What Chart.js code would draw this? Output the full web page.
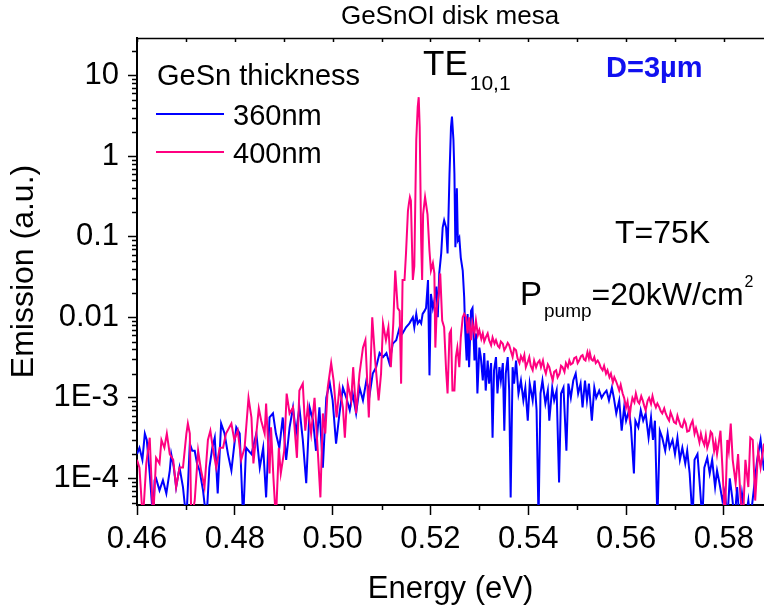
<!DOCTYPE html>
<html>
<head>
<meta charset="utf-8">
<script src="https://cdn.jsdelivr.net/npm/chart.js@4.4.1/dist/chart.umd.min.js"></script>
<style>
  html, body { margin: 0; padding: 0; background: #fff; }
  #wrap { width: 764px; height: 611px; }
</style>
</head>
<body>
<div id="wrap"><canvas id="chart" width="764" height="611"></canvas></div>
<script>
// ------------------------------------------------------------
// Spectra: energy (eV) / emission (a.u.)
// values below the axis floor are kept at 3e-5 (clipped)
// ------------------------------------------------------------
const energy360 = [
  0.4600, 0.4605, 0.4611, 0.4616, 0.4620, 0.4626, 0.4633, 0.4636, 0.4639, 0.4646,
  0.4653, 0.4660, 0.4667, 0.4670, 0.4675, 0.4680, 0.4687, 0.4694, 0.4701, 0.4708,
  0.4713, 0.4718, 0.4723, 0.4728, 0.4735, 0.4742, 0.4748, 0.4754, 0.4759, 0.4765,
  0.4772, 0.4779, 0.4786, 0.4793, 0.4803, 0.4810, 0.4817, 0.4823, 0.4834, 0.4844,
  0.4851, 0.4858, 0.4864,
  0.4871, 0.4878, 0.4884, 0.4891, 0.4898, 0.4905, 0.4912, 0.4919, 0.4925, 0.4932,
  0.4939, 0.4946, 0.4953, 0.4960, 0.4966, 0.4973, 0.4980, 0.4987, 0.4994, 0.5000,
  0.5007, 0.5014, 0.5021, 0.5028, 0.5035, 0.5041, 0.5048, 0.5055, 0.5062, 0.5069,
  0.5076, 0.5082, 0.5089, 0.5096, 0.5103, 0.5110, 0.5116, 0.5123, 0.5130,
  0.5137, 0.5143, 0.5150, 0.5157, 0.5164, 0.5167, 0.5171, 0.5174, 0.5178, 0.5181,
  0.5184, 0.5188, 0.5191, 0.5195, 0.5198, 0.5201, 0.5205, 0.5208, 0.5212, 0.5215,
  0.5218, 0.5222, 0.5225, 0.5228, 0.5232, 0.5235, 0.5239, 0.5242, 0.5244, 0.5247,
  0.5249, 0.5251, 0.5254, 0.5256, 0.5259, 0.5262, 0.5266, 0.5269, 0.5271, 0.5274,
  0.5276, 0.5279, 0.5283, 0.5286, 0.5290, 0.5293, 0.5296, 0.5300, 0.5303, 0.5307,
  0.5310, 0.5313, 0.5317, 0.5320, 0.5324, 0.5327, 0.5330, 0.5334, 0.5337, 0.5341,
  0.5344, 0.5348, 0.5351, 0.5354, 0.5358, 0.5361, 0.5364, 0.5368, 0.5371, 0.5375,
  0.5380, 0.5385, 0.5390, 0.5394, 0.5399, 0.5403, 0.5409, 0.5413, 0.5417, 0.5421,
  0.5425, 0.5429, 0.5435, 0.5440, 0.5443, 0.5449, 0.5453, 0.5458, 0.5463, 0.5467,
  0.5472, 0.5478, 0.5482, 0.5487, 0.5492, 0.5497, 0.5502, 0.5507, 0.5511, 0.5516,
  0.5520, 0.5524, 0.5530, 0.5535, 0.5539, 0.5545, 0.5550, 0.5555, 0.5560, 0.5565,
  0.5571, 0.5575, 0.5580, 0.5586, 0.5591, 0.5596, 0.5600, 0.5606, 0.5610, 0.5616,
  0.5619,
  0.5625, 0.5630, 0.5635, 0.5640, 0.5646, 0.5651, 0.5655, 0.5659, 0.5664, 0.5669,
  0.5674, 0.5680, 0.5685, 0.5689, 0.5695, 0.5700, 0.5705, 0.5710, 0.5715, 0.5721,
  0.5725, 0.5730, 0.5736, 0.5740, 0.5746, 0.5750, 0.5756, 0.5760, 0.5766, 0.5771,
  0.5776, 0.5782, 0.5786, 0.5791, 0.5797, 0.5802, 0.5807, 0.5812, 0.5817, 0.5822,
  0.5827, 0.5832, 0.5837, 0.5844, 0.5850, 0.5854, 0.5861, 0.5868, 0.5875, 0.5882
];
const emission360 = [
  2.0e-4, 2.4e-4, 1.7e-4, 3.6e-4, 3.0e-4, 1.15e-4, 3e-5, 9.5e-5, 1.0e-4, 7.1e-5,
  9.5e-5, 6.5e-5, 1.25e-4, 2.0e-4, 1.4e-4, 7.8e-5, 1.36e-4, 7.8e-5, 3e-5, 2.7e-4,
  2.2e-4, 2.2e-4, 1.5e-4, 1.25e-4, 7.1e-5, 3e-5, 1.36e-4, 2.4e-4, 3.2e-4, 6.5e-5,
  4.8e-4, 3.6e-4, 2.0e-4, 1.25e-4, 4.3e-4, 3.6e-4, 3e-5, 2.4e-4, 2.0e-4, 3.6e-4,
  1.36e-4, 2.4e-4, 5.8e-5,
  5.7e-4, 6.4e-4, 3.6e-4, 2.4e-4, 5.7e-4, 1.7e-4, 4.3e-4, 7.6e-4, 3.6e-4, 7.6e-4,
  3.0e-4, 8.7e-5, 7.6e-4, 5.2e-4, 2.2e-4, 7.6e-4, 1.36e-4, 1.0e-3, 1.55e-3, 9.3e-4,
  2.7e-4, 6.4e-4, 1.34e-3, 1.0e-3, 7.0e-4, 1.13e-3, 6.4e-4, 1.34e-3, 9.3e-4, 1.64e-3,
  1.13e-3, 2.0e-3, 2.4e-3, 3.6e-3, 3.2e-3, 3.6e-3, 2.7e-3, 4.7e-3, 5.2e-3,
  7.5e-3, 6.3e-3, 7.5e-3, 8.4e-3, 1.0e-2, 7.5e-3, 1.1e-2, 8.4e-3, 9.1e-3, 8.4e-3,
  1.1e-2, 1.2e-2, 1.3e-2, 2.9e-2, 1.9e-3, 1.95e-2, 1.3e-2, 1.6e-2, 2.4e-2, 1.0e-2,
  3.5e-2, 6.2e-2, 0.13, 0.16, 0.13, 6.2e-2, 0.61, 2.3, 3.1, 1.6,
  0.61, 7.4e-2, 0.40, 9.0e-2, 9.8e-2, 5.5e-2, 3.8e-2, 1.76e-2, 6.9e-3, 2.9e-3,
  1.1e-2, 2.4e-3, 1.2e-2, 1.3e-2, 2.9e-3, 6.3e-3, 1.13e-3, 4.2e-3, 3.2e-3, 1.64e-3,
  3.6e-3, 1.23e-3, 2.9e-3, 1.5e-3, 2.7e-3, 3.2e-4, 2.2e-3, 3.2e-3, 1.13e-3, 2.4e-3,
  1.64e-3, 2.7e-3, 3.9e-4, 2.0e-3, 3.2e-3, 1.23e-3, 5.8e-5, 2.4e-3, 1.5e-3, 2.9e-3,
  1.13e-3, 1.64e-3, 9.3e-4, 1.34e-3, 5.2e-4, 1.5e-3, 9.3e-4, 1.64e-3, 7.0e-4, 3e-5,
  1.13e-3, 1.64e-3, 8.5e-4, 1.23e-3, 5.2e-4, 1.34e-3, 9.3e-4, 1.23e-3, 8.9e-5, 1.13e-3,
  1.34e-3, 2.2e-4, 1.5e-3, 1.0e-3, 1.64e-3, 2.0e-3, 1.13e-3, 1.5e-3, 7.6e-4, 1.64e-3,
  9.3e-4, 1.5e-3, 5.2e-4, 1.34e-3, 1.0e-3, 1.23e-3, 1.0e-3, 1.13e-3, 1.23e-3, 9.3e-4,
  1.34e-3, 1.0e-3, 6.4e-4, 9.3e-4, 3.9e-4, 7.6e-4, 5.2e-4, 7.0e-4, 4.3e-4, 1.15e-4,
  5.2e-4,
  4.3e-4, 7.0e-4, 5.2e-4, 6.4e-4, 3.2e-4, 5.7e-4, 3.0e-4, 5.2e-4, 3e-5, 3.9e-4,
  3.2e-4, 2.2e-4, 3.6e-4, 2.4e-4, 3.0e-4, 2.0e-4, 3.2e-4, 1.7e-4, 2.4e-4, 1.53e-4,
  2.2e-4, 1.15e-4, 3e-5, 1.7e-4, 2.0e-4, 9.5e-5, 3e-5, 1.36e-4, 1.8e-4, 1.15e-4,
  1.7e-4, 7.8e-5, 1.25e-4, 8.7e-5, 5.3e-5, 7.1e-5, 3e-5, 1.0e-4, 5.8e-5, 3e-5,
  7.8e-5, 3e-5, 6.5e-5, 3e-5, 5.3e-5, 3e-5, 7.1e-5, 1.7e-4, 3.0e-4, 1.25e-4
];

const energy400 = [
  0.4600, 0.4605, 0.4612, 0.4619, 0.4626, 0.4633, 0.4639, 0.4646, 0.4650, 0.4656,
  0.4661, 0.4667, 0.4674, 0.4680, 0.4687, 0.4694, 0.4701, 0.4704, 0.4708, 0.4711,
  0.4718, 0.4725, 0.4731, 0.4738, 0.4745, 0.4750, 0.4755, 0.4762, 0.4769, 0.4776,
  0.4782, 0.4793, 0.4799, 0.4806, 0.4813, 0.4820, 0.4828, 0.4834, 0.4838, 0.4844,
  0.4849, 0.4854, 0.4861,
  0.4864, 0.4871, 0.4874, 0.4879, 0.4884, 0.4890, 0.4894, 0.4901, 0.4906, 0.4912,
  0.4919, 0.4927, 0.4932, 0.4939, 0.4944, 0.4949, 0.4956, 0.4963, 0.4970, 0.4975,
  0.4980, 0.4985, 0.4990, 0.4997, 0.5002, 0.5008, 0.5014, 0.5021, 0.5025, 0.5031,
  0.5038, 0.5042, 0.5048, 0.5055, 0.5062, 0.5067, 0.5074, 0.5081, 0.5087, 0.5094,
  0.5099, 0.5103, 0.5109, 0.5114, 0.5119, 0.5124, 0.5128,
  0.5133, 0.5137, 0.5140, 0.5143, 0.5147, 0.5150, 0.5154, 0.5156, 0.5158, 0.5160,
  0.5164, 0.5167, 0.5171, 0.5174, 0.5176, 0.5178, 0.5181, 0.5183, 0.5185, 0.5189,
  0.5194, 0.5198, 0.5201, 0.5205, 0.5208, 0.5210, 0.5213, 0.5217, 0.5220, 0.5224,
  0.5228, 0.5232, 0.5235, 0.5239, 0.5242, 0.5245, 0.5249, 0.5252, 0.5255, 0.5259,
  0.5262, 0.5266, 0.5269, 0.5273, 0.5276, 0.5279, 0.5283, 0.5286, 0.5290, 0.5293,
  0.5297, 0.5300, 0.5304, 0.5307, 0.5310, 0.5313, 0.5317, 0.5320, 0.5324, 0.5327,
  0.5331, 0.5334, 0.5338, 0.5341, 0.5344, 0.5348, 0.5351, 0.5354, 0.5358, 0.5361,
  0.5365, 0.5368, 0.5371, 0.5375,
  0.5378, 0.5382, 0.5385, 0.5389, 0.5392, 0.5395, 0.5399, 0.5402, 0.5405, 0.5409,
  0.5412, 0.5416, 0.5419, 0.5423, 0.5426, 0.5430, 0.5433, 0.5436, 0.5440, 0.5443,
  0.5447, 0.5450, 0.5453, 0.5457, 0.5460, 0.5464, 0.5467, 0.5470, 0.5474, 0.5477,
  0.5481, 0.5484, 0.5487, 0.5491, 0.5494, 0.5498, 0.5501, 0.5504, 0.5508, 0.5511,
  0.5514, 0.5517, 0.5521, 0.5524, 0.5526, 0.5529, 0.5532, 0.5535, 0.5538, 0.5542,
  0.5545, 0.5548, 0.5552, 0.5555, 0.5559, 0.5562, 0.5566, 0.5569, 0.5573, 0.5576,
  0.5579, 0.5583, 0.5586, 0.5589, 0.5593, 0.5596, 0.5600, 0.5603, 0.5607, 0.5610,
  0.5613, 0.5617, 0.5620,
  0.5624, 0.5627, 0.5631, 0.5634, 0.5637, 0.5640, 0.5644, 0.5647, 0.5651, 0.5654,
  0.5657, 0.5661, 0.5664, 0.5668, 0.5671, 0.5674, 0.5678, 0.5681, 0.5685, 0.5688,
  0.5691, 0.5695, 0.5698, 0.5702, 0.5705, 0.5708, 0.5712, 0.5715, 0.5719, 0.5722,
  0.5725, 0.5729, 0.5732, 0.5736, 0.5740, 0.5743, 0.5746, 0.5750, 0.5753, 0.5756,
  0.5760, 0.5763, 0.5766, 0.5770, 0.5773, 0.5776, 0.5780, 0.5783, 0.5786, 0.5790,
  0.5793, 0.5797, 0.5802, 0.5807, 0.5810, 0.5814, 0.5818, 0.5824, 0.5829, 0.5834,
  0.5839, 0.5844, 0.5850, 0.5854, 0.5859, 0.5864, 0.5870, 0.5875, 0.5882
];
const emission400 = [
  1.7e-4, 1.36e-4, 3e-5, 1.53e-4, 3.2e-4, 3e-5, 1.8e-4, 1.53e-4, 3.0e-4, 2.4e-4,
  3.6e-4, 2.0e-4, 1.7e-4, 7.8e-5, 1.36e-4, 1.36e-4, 3.6e-4, 4.8e-4, 3.6e-4, 3e-5,
  5.3e-5, 2.2e-4, 1.25e-4, 7.8e-5, 3.0e-4, 3.9e-4, 2.4e-4, 1.36e-4, 2.4e-4, 2.4e-4,
  3.6e-4, 4.8e-4, 3.0e-4, 3.9e-4, 1.7e-4, 2.4e-4, 1.0e-3, 5.7e-4, 1.53e-4, 3.6e-4,
  7.4e-4, 5.2e-4, 3.6e-4,
  8.5e-4, 1.15e-4, 4.3e-4, 1.0e-4, 3e-5, 2.4e-4, 1.15e-4, 2.2e-4, 1.13e-3, 6.4e-4,
  7.6e-4, 1.8e-4, 1.23e-3, 1.5e-3, 3.9e-4, 7.6e-4, 3.6e-4, 1.0e-3, 2.0e-4, 5.8e-5,
  6.4e-4, 3.6e-4, 1.34e-3, 2.7e-3, 1.64e-3, 5.7e-4, 1.34e-3, 7.6e-4, 3.2e-4, 1.5e-3,
  9.3e-4, 2.4e-3, 6.4e-4, 2.0e-3, 4.2e-3, 5.2e-3, 5.7e-4, 1.0e-2, 2.9e-3, 9.3e-4,
  2.0e-3, 8.4e-3, 5.2e-3, 7.5e-3, 2.4e-3, 8.4e-3, 3.8e-2,
  1.3e-2, 1.2e-2, 1.5e-3, 2.9e-2, 2.9e-2, 6.2e-2, 0.21, 0.26, 0.31, 0.28,
  2.9e-2, 4.3e-2, 1.6, 4.1, 5.4, 2.3, 9.0e-2, 2.9e-2, 0.19, 0.31,
  0.19, 6.7e-2, 3.8e-2, 4.7e-2, 3.5e-2, 4.2e-3, 1.3e-2, 1.95e-2, 3.5e-2, 9.1e-3,
  7.5e-3, 2.2e-3, 1.13e-3, 6.3e-3, 6.9e-3, 1.23e-3, 1.23e-3, 3.2e-3, 4.2e-3, 2.4e-3,
  5.6e-3, 1.0e-2, 1.1e-2, 1.0e-2, 6.3e-3, 1.0e-2, 5.2e-3, 8.4e-3, 6.3e-3, 9.1e-3,
  6.0e-3, 6.9e-3, 5.4e-3, 6.3e-3, 5.0e-3, 5.6e-3, 6.3e-3, 5.2e-3, 4.5e-3, 5.6e-3,
  4.7e-3, 5.2e-3, 4.4e-3, 4.2e-3, 5.0e-3, 4.7e-3, 3.9e-3, 4.2e-3, 4.8e-3, 4.5e-3,
  3.7e-3, 3.2e-3, 4.1e-3, 3.9e-3,
  3.1e-3, 2.7e-3, 3.3e-3, 2.9e-3, 3.4e-3, 2.4e-3, 2.8e-3, 3.2e-3, 2.5e-3, 2.2e-3,
  2.9e-3, 2.4e-3, 2.7e-3, 2.9e-3, 2.4e-3, 2.9e-3, 2.3e-3, 2.0e-3, 2.6e-3, 2.4e-3,
  1.9e-3, 1.64e-3, 2.1e-3, 2.2e-3, 1.8e-3, 2.0e-3, 2.5e-3, 2.4e-3, 2.1e-3, 2.7e-3,
  2.4e-3, 2.9e-3, 2.6e-3, 2.7e-3, 3.1e-3, 3.2e-3, 2.7e-3, 2.9e-3, 3.3e-3, 3.4e-3,
  3.0e-3, 2.9e-3, 3.7e-3, 3.1e-3, 3.6e-3, 3.0e-3, 2.9e-3, 3.2e-3, 2.7e-3, 2.9e-3,
  2.7e-3, 2.4e-3, 2.2e-3, 2.5e-3, 2.0e-3, 2.2e-3, 1.8e-3, 2.0e-3, 1.55e-3, 1.8e-3,
  1.64e-3, 1.4e-3, 1.23e-3, 1.45e-3, 1.13e-3, 1.0e-3, 7.6e-4, 9.0e-4, 5.7e-4, 8.0e-4,
  1.0e-3, 8.8e-4, 1.13e-3,
  9.0e-4, 8.5e-4, 1.05e-3, 9.3e-4, 8.0e-4, 7.0e-4, 9.2e-4, 1.0e-3, 8.4e-4, 1.05e-3,
  8.8e-4, 7.6e-4, 8.5e-4, 7.6e-4, 6.8e-4, 6.4e-4, 7.4e-4, 6.4e-4, 5.6e-4, 5.2e-4,
  6.6e-4, 5.7e-4, 5.0e-4, 4.8e-4, 6.0e-4, 5.2e-4, 4.4e-4, 4.3e-4, 5.3e-4, 4.8e-4,
  3.8e-4, 3.9e-4, 4.6e-4, 5.2e-4, 3.6e-4, 4.2e-4, 3.6e-4, 2.8e-4, 3.6e-4, 3.0e-4,
  2.6e-4, 3.4e-4, 2.4e-4, 2.9e-4, 3.8e-4, 3.6e-4, 2.2e-4, 2.8e-4, 2.0e-4, 2.9e-4,
  3.9e-4, 1.36e-4, 3e-5, 3.0e-4, 2.2e-4, 4.8e-4, 1.7e-4, 8.7e-5, 2.0e-4, 5.8e-5,
  3e-5, 1.7e-4, 7.8e-5, 3.2e-4, 3.0e-4, 5.3e-5, 2.2e-4, 1.36e-4, 2.7e-4
];

// axis ticks
const xTickValues = [0.46, 0.48, 0.50, 0.52, 0.54, 0.56, 0.58];
const xMinorTicks = [0.47, 0.49, 0.51, 0.53, 0.55, 0.57];
const yTickValues = [1e-4, 1e-3, 0.01, 0.1, 1, 10];
const yTickLabels = ['1E-4', '1E-3', '0.01', '0.1', '1', '10'];
const seriesLabels = ['360nm', '400nm'];
const seriesColors = ['#0000ff', '#ff0080'];

const FONT = "'Liberation Sans', Arial, Helvetica, sans-serif";

// ============================================================
// Frame extras, legend and annotations drawn on top
// ============================================================
const decorPlugin = {
  id: 'decor',
  afterDraw(chart) {
    const { ctx, chartArea: a, scales: { x, y } } = chart;
    ctx.save();
    ctx.strokeStyle = '#000';
    ctx.lineWidth = 1.5;

    // top frame line + inward ticks every 0.01
    ctx.beginPath();
    ctx.moveTo(a.left, a.top + 0.5);
    ctx.lineTo(a.right, a.top + 0.5);
    xTickValues.concat(xMinorTicks).forEach(v => {
      const px = Math.round(x.getPixelForValue(v)) + 0.5;
      ctx.moveTo(px, a.top);
      ctx.lineTo(px, a.top + 4);
    });
    ctx.stroke();

    // minor ticks on the log axis
    ctx.beginPath();
    for (let k = -5; k <= 1; k++) {
      for (let m = 2; m <= 9; m++) {
        const v = m * Math.pow(10, k);
        if (v < y.min || v > y.max) continue;
        const py = Math.round(y.getPixelForValue(v)) + 0.5;
        ctx.moveTo(a.left - 5, py);
        ctx.lineTo(a.left, py);
      }
    }
    // minor ticks on the energy axis
    xMinorTicks.forEach(v => {
      const px = Math.round(x.getPixelForValue(v)) + 0.5;
      ctx.moveTo(px, a.bottom);
      ctx.lineTo(px, a.bottom + 5);
    });
    ctx.stroke();

    // text helper
    const put = (str, px, py, size, opts = {}) => {
      ctx.font = `${opts.bold ? 'bold ' : ''}${size}px ${FONT}`;
      ctx.fillStyle = opts.color || '#000';
      ctx.textAlign = opts.align || 'left';
      ctx.textBaseline = 'alphabetic';
      ctx.fillText(str, px, py);
      return px + ctx.measureText(str).width;
    };

    // title
    put('GeSnOI disk mesa', 450, 24, 26, { align: 'center' });

    // legend
    put('GeSn thickness', 157, 85, 29);
    ctx.lineWidth = 2;
    seriesColors.forEach((c, i) => {
      const ly = i === 0 ? 114 : 152;
      ctx.strokeStyle = c;
      ctx.beginPath();
      ctx.moveTo(156, ly);
      ctx.lineTo(224, ly);
      ctx.stroke();
      put(seriesLabels[i], 233, ly + 11, 29);
    });

    // mode label
    let cx = put('TE', 423, 75, 35);
    put('10,1', cx + 2, 90, 21);

    // disk diameter
    put('D=3\u00b5m', 606, 77, 29, { bold: true, color: '#1010f0' });

    // conditions
    put('T=75K', 615, 243, 32);
    cx = put('P', 520, 305, 33);
    cx = put('pump', cx + 2, 317, 19);
    cx = put('=20kW/cm', cx, 305, 32);
    put('2', cx + 1, 287, 16);

    ctx.restore();
  }
};

const ctx = document.getElementById('chart');
new Chart(ctx, {
  type: 'line',
  data: {
    datasets: [
      {
        label: seriesLabels[0],
        data: energy360.map((e, i) => ({ x: e, y: emission360[i] })),
        borderColor: seriesColors[0],
        borderWidth: 2,
        pointRadius: 0,
        tension: 0,
        order: 2,
        clip: 0
      },
      {
        label: seriesLabels[1],
        data: energy400.map((e, i) => ({ x: e, y: emission400[i] })),
        borderColor: seriesColors[1],
        borderWidth: 2,
        pointRadius: 0,
        tension: 0,
        order: 1,
        clip: 0
      }
    ]
  },
  options: {
    responsive: false,
    animation: false,
    devicePixelRatio: 1,
    layout: { padding: { top: 38, right: 0, left: 0, bottom: 0 } },
    plugins: {
      legend: { display: false },
      tooltip: { enabled: false }
    },
    scales: {
      x: {
        type: 'linear',
        min: 0.46,
        max: 0.5882,
        afterBuildTicks: s => { s.ticks = xTickValues.map(v => ({ value: v })); },
        afterFit: s => { s.height = 106; },
        ticks: {
          autoSkip: false,
          maxRotation: 0,
          padding: 6,
          color: '#000',
          font: { family: FONT, size: 31 },
          callback: v => v.toFixed(2)
        },
        grid: {
          drawOnChartArea: false,
          drawTicks: true,
          tickLength: 10,
          tickWidth: 1.5,
          tickColor: '#000'
        },
        border: { display: true, color: '#000', width: 2 },
        title: {
          display: true,
          text: 'Energy (eV)',
          color: '#000',
          font: { family: FONT, size: 31 },
          padding: { top: 0, bottom: 3 }
        }
      },
      y: {
        type: 'logarithmic',
        min: 4.67e-5,
        max: 29.3,
        afterBuildTicks: s => { s.ticks = yTickValues.map(v => ({ value: v })); },
        afterFit: s => { s.width = 137; },
        ticks: {
          autoSkip: false,
          padding: 9,
          color: '#000',
          font: { family: FONT, size: 31 },
          callback: (v, i) => yTickLabels[i]
        },
        grid: {
          drawOnChartArea: false,
          drawTicks: true,
          tickLength: 9,
          tickWidth: 1.5,
          tickColor: '#000'
        },
        border: { display: true, color: '#000', width: 2 },
        title: {
          display: true,
          text: 'Emission (a.u.)',
          color: '#000',
          font: { family: FONT, size: 32 },
          padding: { top: 5, bottom: 0 }
        }
      }
    }
  },
  plugins: [decorPlugin]
});
</script>
</body>
</html>
